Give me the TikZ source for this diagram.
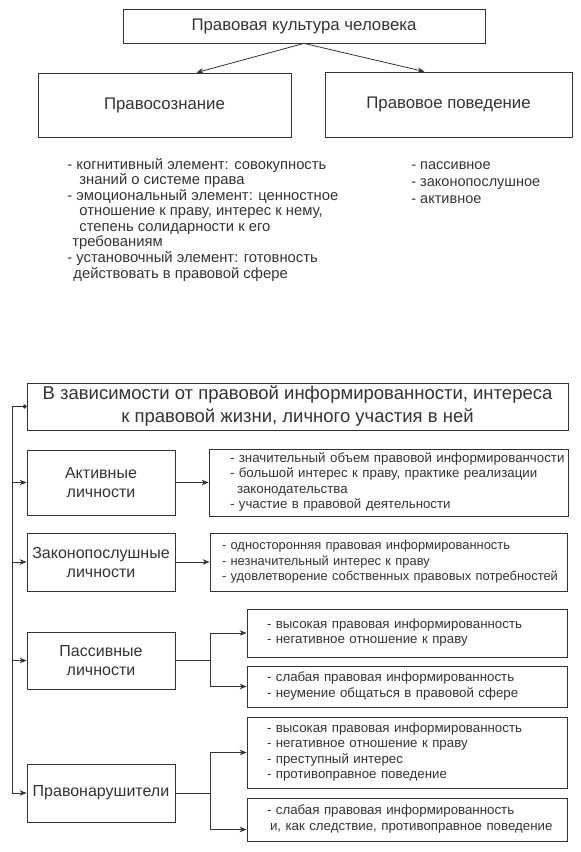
\documentclass[tikz,border=0pt]{standalone}
\usepackage{fontspec}
\setmainfont{Liberation Sans}
\usepackage{tikz}
\usetikzlibrary{positioning,calc,arrows.meta}
\definecolor{ink}{gray}{0.2}
\newcommand{\itemlines}[1]{\begin{tabular}{@{}l@{}}#1\end{tabular}}

\begin{document}
\begin{tikzpicture}[x=1pt,y=-1pt,color=ink,line width=0.8pt,
    box/.style={rectangle,draw,inner sep=0pt},
    head/.style={box,font=\fontsize{16.8}{19}\selectfont,align=center},
    kind/.style={box,minimum width=148pt,font=\fontsize{16}{19}\selectfont,align=center},
    list/.style={box,align=left,font=\fontsize{13.3}{15.5}\selectfont},
    arr/.style={-{Stealth[length=7pt,width=5.5pt]}}]
\useasboundingbox (0,0) rectangle (581,852);

% Structure of legal culture
\node[head,minimum width=362pt,minimum height=34pt] (culture) at (304,26) {Правовая культура человека};
\node[head,minimum width=253pt,minimum height=64pt] (conscious) at (164.5,105) {Правосознание};
\node[head,minimum width=247pt,minimum height=65pt] (behav) at (448.5,104.5) {Правовое поведение};
\draw[arr] (culture.south) -- ([xshift=32pt]conscious.north);
\draw[arr] (culture.south) -- ([xshift=-24pt]behav.north);

\node[anchor=north west,inner sep=0pt,font=\fontsize{14.8}{15.4}\selectfont] (elems) at (67,158) {\itemlines{%
  - когнитивный элемент: совокупность\\
  \hspace{12pt}знаний о системе права\\
  - эмоциональный элемент: ценностное\\
  \hspace{12pt}отношение к праву, интерес к нему,\\
  \hspace{12pt}степень солидарности к его\\
  \hspace{5pt}требованиям\\
  - установочный элемент: готовность\\
  \hspace{6pt}действовать в правовой сфере}};
\node[anchor=north west,inner sep=0pt,font=\fontsize{14.5}{17}\selectfont] (forms) at (411,157) {\itemlines{%
  - пассивное\\ - законопослушное\\ - активное}};

% Types of personality
\node[box,minimum width=541pt,minimum height=47pt,align=center,
      font=\fontsize{18.5}{23}\selectfont] (header) at (297.5,406.5)
      {В зависимости от правовой информированности, интереса\\к правовой жизни, личного участия в ней};

\node[kind,minimum height=65pt] (act) at (101,482.5) {Активные\\личности};
\node[kind,minimum height=58pt] (law) at (101,562) {Законопослушные\\личности};
\node[kind,minimum height=57pt] (pass) at (101,660.5) {Пассивные\\личности};
\node[kind,minimum height=58pt] (viol) at (101,793) {Правонарушители};

\node[list,text width=317pt,inner xsep=21pt,minimum height=67pt] (b1) at (388.5,482.5) {\itemlines{%
  - значительный объем правовой информированчости\\
  - большой интерес к праву, практике реализации\\
  \hspace{7pt}законодательства\\
  - участие в правовой деятельности}};
\node[list,text width=333pt,inner xsep=12pt,minimum height=58pt,
      font=\fontsize{12.9}{15.5}\selectfont] (b2) at (388.5,562) {\itemlines{%
  - односторонняя правовая информированность\\
  - незначительный интерес к праву\\
  - удовлетворение собственных правовых потребностей}};
\node[list,text width=280pt,inner xsep=20pt,minimum height=48pt] (b3) at (407,633) {\itemlines{%
  - высокая правовая информированность\\
  - негативное отношение к праву}};
\node[list,text width=280pt,inner xsep=20pt,minimum height=41pt] (b4) at (407,686.5) {\itemlines{%
  - слабая правовая информированность\\
  - неумение общаться в правовой сфере}};
\node[list,text width=280pt,inner xsep=20pt,minimum height=71pt] (b5) at (407,752.5) {\itemlines{%
  - высокая правовая информированность\\
  - негативное отношение к праву\\
  - преступный интерес\\
  - противоправное поведение}};
\node[list,text width=280pt,inner xsep=20pt,minimum height=43pt] (b6) at (407,819.5) {\itemlines{%
  - слабая правовая информированность\\
  \hspace{3pt}и, как следствие, противоправное поведение}};

% Connectors
\coordinate (trunk) at ([xshift=-14pt]header.west);
\draw[{Circle[length=4pt]}-{Stealth[length=7pt,width=5.5pt]}] (header.west) -- (trunk) |- (viol.west);
\foreach \k in {act,law,pass} {
    \draw[arr] (trunk |- \k.west) -- (\k.west);
}
\draw[arr] (act.east) -- (b1.west);
\draw[arr] (law.east) -- (b2.west);
\draw (pass.east) -- ++(35,0) coordinate (pj);
\draw[arr] (pj) |- (b3.west);
\draw[arr] (pj) |- (b4.west);
\draw (viol.east) -- ++(35,0) coordinate (vj);
\draw[arr] (vj) |- (b5.west);
\draw[arr] (vj) |- ([yshift=-10pt]b6.west);

\end{tikzpicture}
\end{document}
